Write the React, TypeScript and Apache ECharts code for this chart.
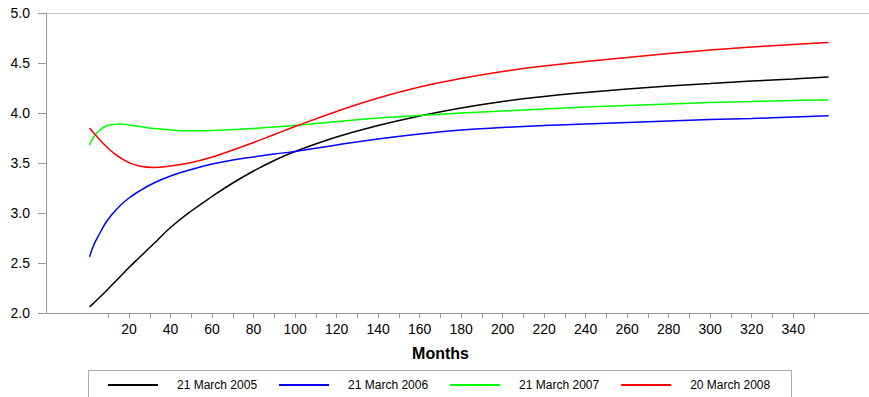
import React, { useEffect, useRef } from "react";
import * as echarts from "echarts";

const months = [1, 3, 6, 9, 12, 16, 20, 25, 32, 40, 50, 60, 70, 80, 90, 100, 120, 140, 160, 180, 200, 220, 240, 260, 280, 300, 320, 340, 357];

const march2005 = [2.06, 2.1, 2.16, 2.22, 2.285, 2.37, 2.455, 2.555, 2.695, 2.855, 3.02, 3.165, 3.3, 3.42, 3.525, 3.615, 3.76, 3.875, 3.97, 4.05, 4.115, 4.165, 4.205, 4.24, 4.27, 4.295, 4.32, 4.34, 4.36];
const march2006 = [2.56, 2.68, 2.8, 2.91, 2.99, 3.08, 3.15, 3.22, 3.3, 3.37, 3.435, 3.49, 3.53, 3.56, 3.59, 3.615, 3.68, 3.74, 3.79, 3.83, 3.855, 3.875, 3.89, 3.905, 3.92, 3.935, 3.945, 3.96, 3.973];
const march2007 = [3.68, 3.76, 3.83, 3.87, 3.885, 3.89, 3.88, 3.865, 3.845, 3.83, 3.822, 3.825, 3.835, 3.845, 3.86, 3.875, 3.915, 3.95, 3.975, 4.0, 4.02, 4.04, 4.06, 4.075, 4.09, 4.105, 4.115, 4.125, 4.13];
const march2008 = [3.85, 3.8, 3.73, 3.665, 3.61, 3.55, 3.505, 3.47, 3.455, 3.47, 3.505, 3.56, 3.63, 3.705, 3.785, 3.865, 4.015, 4.15, 4.26, 4.345, 4.415, 4.47, 4.515, 4.555, 4.595, 4.63, 4.66, 4.685, 4.705];

const seriesNames = ["21 March 2005", "21 March 2006", "21 March 2007", "20 March 2008"];
const seriesColors = ["#000000", "#0000ff", "#00ff00", "#ff0000"];

const xTickValues = [10, 20, 30, 40, 50, 60, 70, 80, 90, 100, 110, 120, 130, 140, 150, 160, 170, 180, 190, 200, 210, 220, 230, 240, 250, 260, 270, 280, 290, 300, 310, 320, 330, 340, 350];
const xLabelValues = [20, 40, 60, 80, 100, 120, 140, 160, 180, 200, 220, 240, 260, 280, 300, 320, 340];

const FONT = "Arial, 'Liberation Sans', sans-serif";

export default function App() {
  const ref = useRef<HTMLDivElement>(null);
  useEffect(() => {
    document.body.style.margin = "0";
    if (!ref.current) return;
    const chart = echarts.init(ref.current, undefined, { renderer: "svg" });
    const allValues = [march2005, march2006, march2007, march2008];
    chart.setOption({
      animation: false,
      backgroundColor: "#ffffff",
      grid: { left: 46, top: 13, right: 0, height: 300 },
      legend: {
        left: 103,
        top: 374,
        icon: "rect",
        itemWidth: 50,
        itemHeight: 2,
        itemGap: 22,
        data: seriesNames,
        textStyle: { fontSize: 12, color: "#000", fontFamily: FONT, padding: [0, 0, 0, 14] },
      },
      xAxis: [
        {
          type: "value",
          min: -20,
          max: 376.5,
          axisLine: { show: true, onZero: false, lineStyle: { color: "#999", width: 1 } },
          axisTick: { show: true, customValues: xTickValues, length: 5, lineStyle: { color: "#999" } },
          axisLabel: { customValues: xLabelValues, fontSize: 14, color: "#000", fontFamily: FONT, margin: 9 },
          splitLine: { show: false },
        },
        {
          type: "value",
          position: "top",
          min: -20,
          max: 376.5,
          axisLine: { show: true, onZero: false, lineStyle: { color: "#c0c0c0", width: 1 } },
          axisTick: { show: false },
          axisLabel: { show: false },
          splitLine: { show: false },
        },
      ],
      yAxis: {
        type: "value",
        min: 2,
        max: 5,
        interval: 0.5,
        axisLine: { show: true, onZero: false, lineStyle: { color: "#999", width: 1 } },
        axisTick: { show: true, length: 8, lineStyle: { color: "#999" } },
        axisLabel: {
          fontSize: 14,
          color: "#000",
          fontFamily: FONT,
          margin: 16,
          formatter: (v: number) => v.toFixed(1),
        },
        splitLine: { show: false },
      },
      graphic: [
        {
          type: "text",
          x: 440.5,
          y: 353,
          style: {
            text: "Months",
            font: `bold 16px ${FONT}`,
            fill: "#000",
            textAlign: "center",
            textVerticalAlign: "middle",
          },
        },
        {
          type: "rect",
          shape: { x: 88.5, y: 370.5, width: 703, height: 60 },
          style: { fill: "none", stroke: "#aaa", lineWidth: 1 },
          z: -1,
        },
      ],
      series: seriesNames.map((name, i) => ({
        name,
        type: "line",
        xAxisIndex: 0,
        showSymbol: false,
        symbol: "none",
        smooth: 0.45,
        color: seriesColors[i],
        lineStyle: { color: seriesColors[i], width: 1.5 },
        data: months.map((m, j) => [m, allValues[i][j]]),
      })),
    });
    return () => chart.dispose();
  }, []);
  return <div ref={ref} style={{ width: 869, height: 397 }} />;
}
